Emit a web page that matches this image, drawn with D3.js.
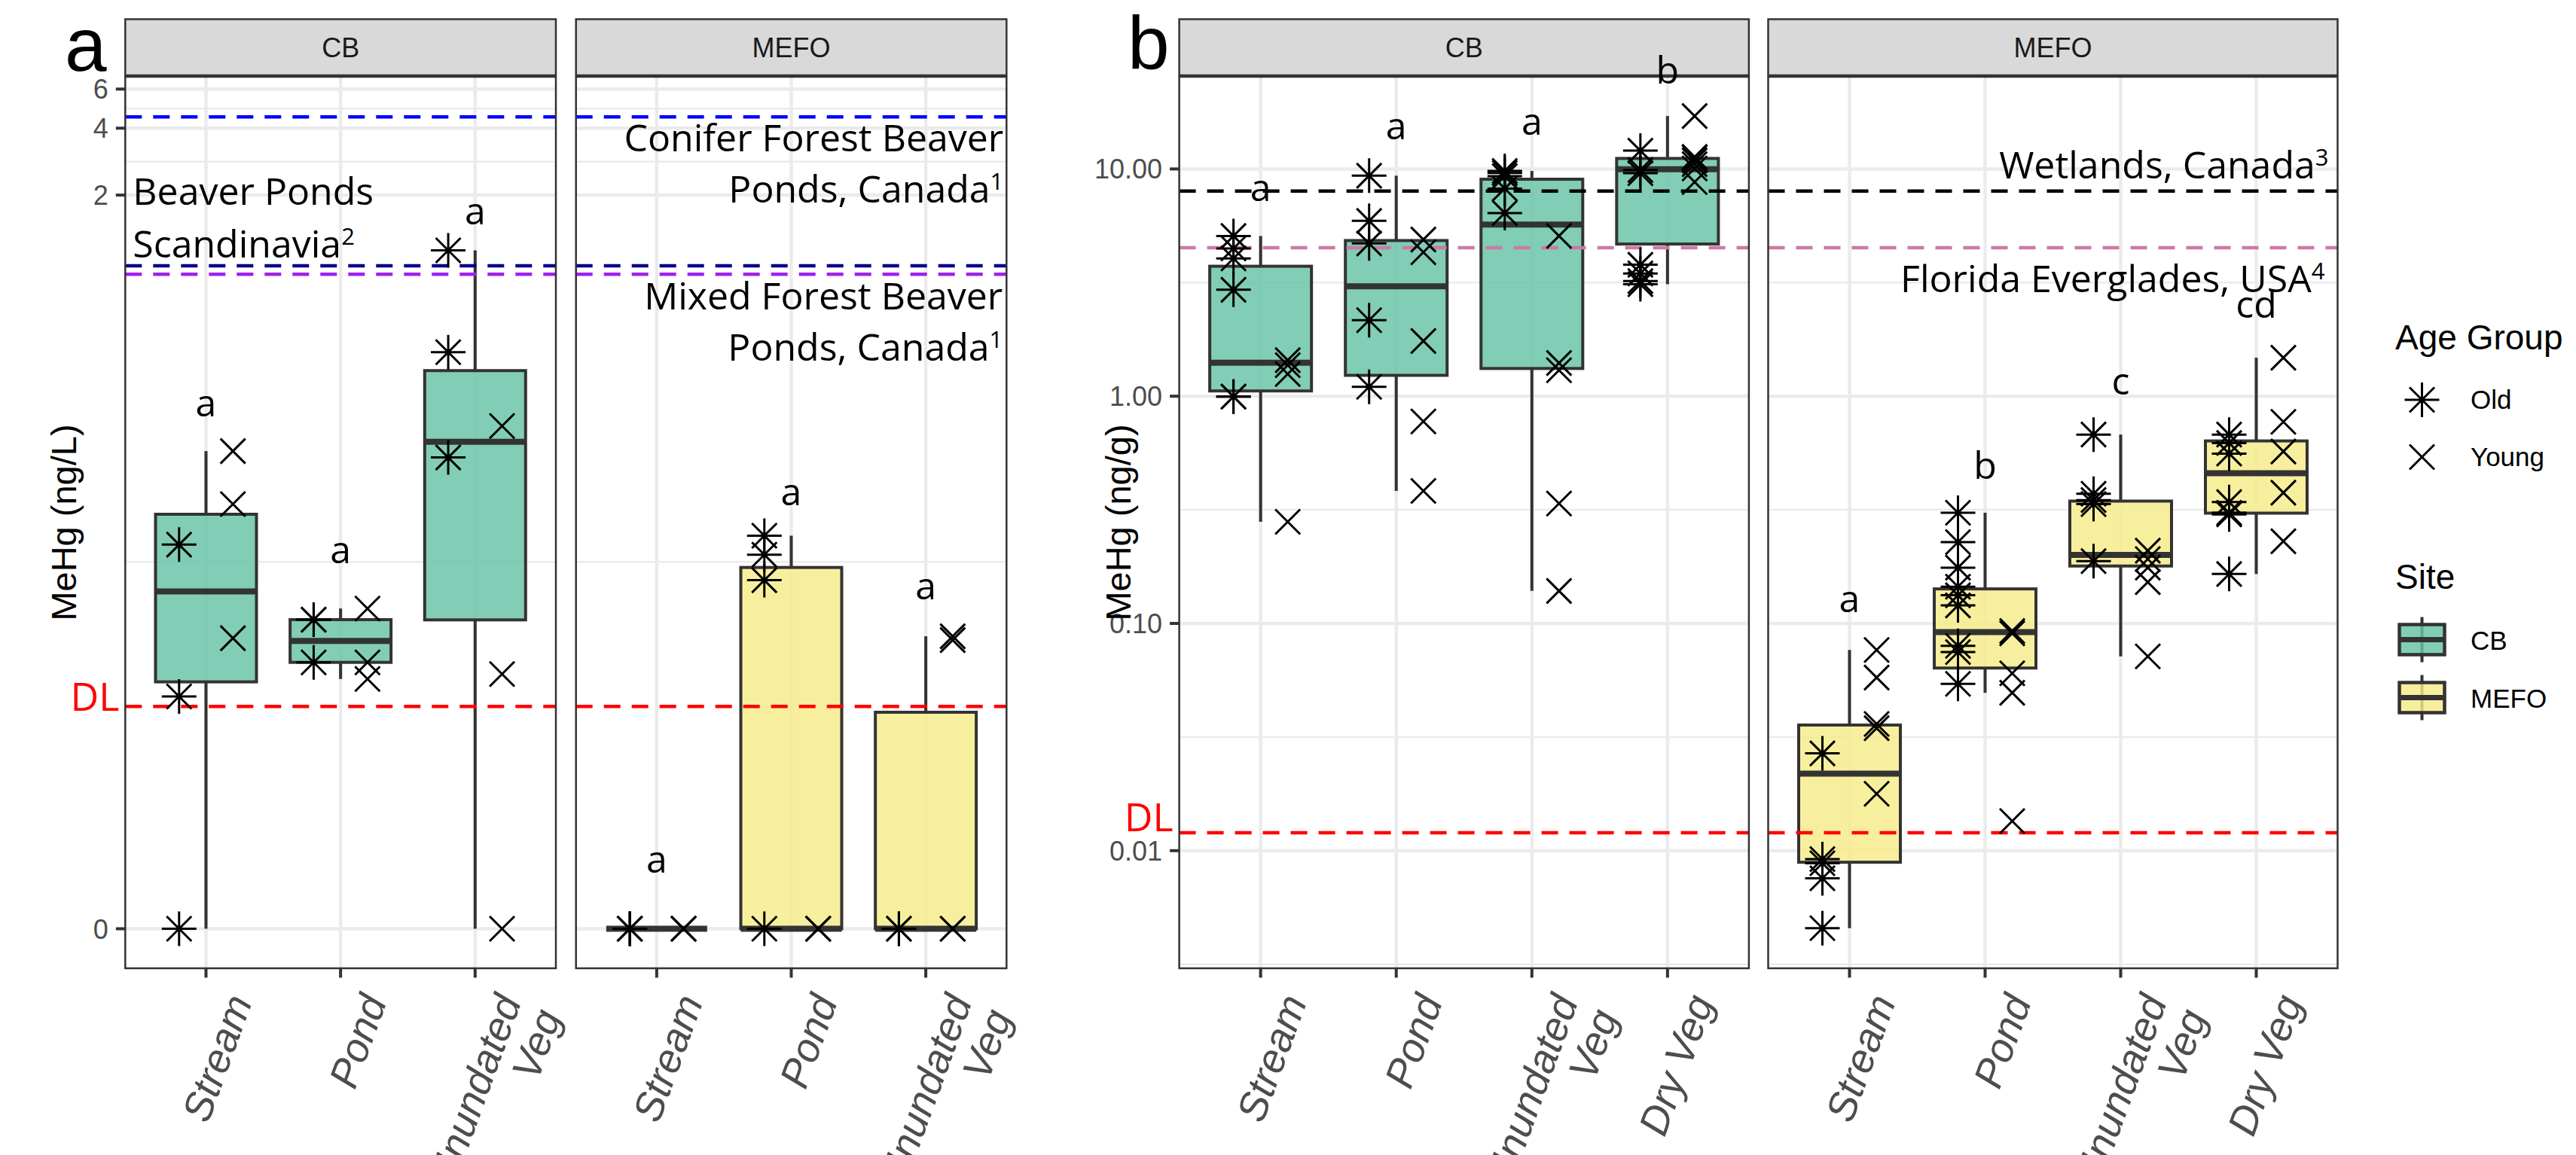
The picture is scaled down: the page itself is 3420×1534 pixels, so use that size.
<!DOCTYPE html>
<html><head><meta charset="utf-8">
<script src="https://cdn.jsdelivr.net/npm/d3@7/dist/d3.min.js"></script>
<style>html,body{margin:0;padding:0;background:#fff;}svg{display:block;}</style>
</head><body>
<script>
// ===================== DATA =====================
const habitatsA = ["Stream", "Pond", "Inundated Veg"];
const habitatsB = ["Stream", "Pond", "Inundated Veg", "Dry Veg"];
const sites = ["CB", "MEFO"];
const ageGroups = ["Old", "Young"];

// (a) MeHg in water (ng/L); one inner array per habitat: Stream, Pond, Inundated Veg
const waterCBOld     = [[0.0525, 0.0101, 0], [0.0236, 0.0236, 0.0148], [1.128, 0.392, 0.131]];
const waterCBYoung   = [[0.140, 0.0804, 0.0193], [0.0266, 0.0148, 0.0123], [0.182, 0.0130, 0]];
const waterMEFOOld   = [[0, 0, 0], [0.0577, 0.0472, 0.0360, 0], [0, 0]];
const waterMEFOYoung = [[0, 0, 0], [0, 0, 0], [0, 0, 0.0189, 0.0197]];

// (b) MeHg (ng/g); one inner array per habitat: Stream, Pond, Inundated Veg, Dry Veg
const sedCBOld = [
  [5.07, 4.47, 4.04, 2.94, 0.996, 0.996],
  [9.34, 5.91, 4.70, 2.16, 1.10],
  [9.8, 9.6, 9.3, 8.2, 6.4],
  [12.04, 9.9, 9.58, 3.79, 3.47, 3.21, 3.11]
];
const sedCBYoung = [
  [1.441, 1.369, 1.252, 0.280],
  [4.89, 4.30, 1.75, 0.774, 0.383],
  [5.07, 1.40, 1.30, 0.337, 0.139],
  [17.1, 11.3, 11.2, 10.9, 10.5, 10.05, 8.76]
];
const sedMEFOOld = [
  [0.0268, 0.00918, 0.0088, 0.00756, 0.00456],
  [0.307, 0.228, 0.176, 0.145, 0.133, 0.120, 0.0797, 0.0748, 0.0542],
  [0.678, 0.372, 0.349, 0.335, 0.188],
  [0.678, 0.622, 0.559, 0.342, 0.307, 0.302, 0.165]
];
const sedMEFOYoung = [
  [0.0764, 0.0578, 0.0361, 0.0346, 0.0178],
  [0.0926, 0.0905, 0.0603, 0.0495, 0.0135],
  [0.209, 0.192, 0.176, 0.152, 0.0716],
  [1.477, 0.771, 0.571, 0.376, 0.230]
];

// significance letters and the value at which each sits
const lettersWaterCB = ["a", "a", "a"];
const letterYWaterCB = [0.201, 0.0431, 1.475];
const lettersWaterMEFO = ["a", "a", "a"];
const letterYWaterMEFO = [0.00079, 0.0797, 0.0294];
const lettersSedCB = ["a", "a", "a", "b"];
const letterYSedCB = [7.25, 13.5, 14.1, 23.7];
const lettersSedMEFO = ["a", "b", "c", "cd"];
const letterYSedMEFO = [0.112, 0.433, 1.018, 2.22];

// axis ticks
const waterTicks = [0, 2, 4, 6];
const waterTickLabels = ["0", "2", "4", "6"];
const sedTicks = [0.01, 0.1, 1, 10];
const sedTickLabels = ["0.01", "0.10", "1.00", "10.00"];

// literature reference values and detection limits
const waterRefValues = [4.5, 0.96, 0.88];
const waterRefColors = ["#0000FF", "#00008B", "#A020F0"];
const sedRefValues = [8.0, 4.5];
const sedRefColors = ["#000000", "#CC79A7"];
const waterDL = 0.009;
const sedDL = 0.012;

// reference labels: [text, superscript] per line, plus the value of the first baseline
const waterNoteCB = { lines: [["Beaver Ponds", ""], ["Scandinavia", "2"]], at: 1.808 };
const waterNoteConifer = { lines: [["Conifer Forest Beaver", ""], ["Ponds, Canada", "1"]], at: 3.157 };
const waterNoteMixed = { lines: [["Mixed Forest Beaver", ""], ["Ponds, Canada", "1"]], at: 0.611 };
const sedNoteWetlands = { lines: [["Wetlands, Canada", "3"]], at: 9.05 };
const sedNoteFlorida = { lines: [["Florida Everglades, USA", "4"]], at: 2.875 };

// ===================== LAYOUT / STYLE =====================
const W = 3420, H = 1534;
const SANS = "'Liberation Sans', Arial, Helvetica, sans-serif";
const ANNO = "'Open Sans', 'Noto Sans', sans-serif";
const L = { top: 102, bottom: 1286, stripTop: 25.5, tickLen: 12.5 };
const siteFill = { CB: "#66C2A5", MEFO: "#F5EC88" };
const fillOpacity = 0.82;

const svg = d3.select("body").append("svg")
  .attr("width", W).attr("height", H).attr("viewBox", `0 0 ${W} ${H}`);
svg.append("rect").attr("width", W).attr("height", H).attr("fill", "#fff");

const yA = d3.scaleSymlog().constant(0.001).domain([0, 6]).range([1233.5, 118.3]);
const yB = d3.scaleLog().domain([0.01, 10]).range([1129.8, 224.4]);
const tfA = v => Math.log1p(v / 0.001), invA = t => 0.001 * Math.expm1(t);
const tfB = v => Math.log10(v), invB = t => Math.pow(10, t);

const astPath = "M-23,0H23M0,-23V23M-16.5,-16.5L16.5,16.5M-16.5,16.5L16.5,-16.5";
const crossPath = "M-16.5,-16.5L16.5,16.5M-16.5,16.5L16.5,-16.5";
const shapeOf = { Old: astPath, Young: crossPath };

function boxStats(vals, tf, inv) {
  const t = vals.map(tf).sort(d3.ascending);
  const q1 = d3.quantileSorted(t, 0.25), med = d3.quantileSorted(t, 0.5), q3 = d3.quantileSorted(t, 0.75);
  const iqr = q3 - q1;
  const lo = d3.min(t.filter(v => v >= q1 - 1.5 * iqr));
  const hi = d3.max(t.filter(v => v <= q3 + 1.5 * iqr));
  return { q1: inv(q1), med: inv(med), q3: inv(q3), lo: inv(lo), hi: inv(hi) };
}

function minorTicks(majors, tf, inv) {
  const t = majors.map(tf);
  const out = [];
  for (let i = 0; i < t.length - 1; i++) out.push(inv((t[i] + t[i + 1]) / 2));
  out.push(inv(t[0] - (t[1] - t[0]) / 2));
  out.push(inv(t[t.length - 1] + (t[t.length - 1] - t[t.length - 2]) / 2));
  return out;
}

function addNote(g, note, x, y, anchor, lineGap) {
  note.lines.forEach((ln, i) => {
    const t = g.append("text").attr("x", x).attr("y", y(note.at) + i * lineGap)
      .attr("text-anchor", anchor).attr("font-family", ANNO).attr("font-size", 50).attr("fill", "#000");
    t.append("tspan").text(ln[0]);
    if (ln[1]) t.append("tspan").attr("font-size", 31).attr("dy", -17).text(ln[1]);
  });
}

function drawPanel(p) {
  const g = svg.append("g");
  const x = d3.scalePoint().domain(p.habitats).range([p.x0, p.x1]).padding(0.6);
  const step = x.step(), bw = step * 0.75, dodge = step * 0.2;
  const y = p.y;
  const inPanel = v => { const yy = y(v); return yy > L.top && yy < L.bottom; };

  // strip (drawn first so letters can spill over it)
  g.append("rect").attr("x", p.x0).attr("y", L.stripTop).attr("width", p.x1 - p.x0).attr("height", L.top - L.stripTop - 2)
    .attr("fill", "#D9D9D9").attr("stroke", "#333333").attr("stroke-width", 2.5);
  g.append("text").attr("x", (p.x0 + p.x1) / 2).attr("y", (L.stripTop + L.top) / 2 + 12.5)
    .attr("text-anchor", "middle").attr("font-family", SANS).attr("font-size", 36).attr("fill", "#1A1A1A")
    .text(p.site);

  // grid
  const minors = minorTicks(p.ticks, p.tf, p.inv).filter(inPanel);
  g.selectAll(".ymin").data(minors).join("line")
    .attr("x1", p.x0).attr("x2", p.x1).attr("y1", d => y(d)).attr("y2", d => y(d))
    .attr("stroke", "#EBEBEB").attr("stroke-width", 2.5);
  g.selectAll(".ymaj").data(p.ticks).join("line")
    .attr("x1", p.x0).attr("x2", p.x1).attr("y1", d => y(d)).attr("y2", d => y(d))
    .attr("stroke", "#EBEBEB").attr("stroke-width", 4.5);
  g.selectAll(".xmaj").data(p.habitats).join("line")
    .attr("x1", d => x(d)).attr("x2", d => x(d)).attr("y1", L.top).attr("y2", L.bottom)
    .attr("stroke", "#EBEBEB").attr("stroke-width", 4.5);

  // boxes
  p.habitats.forEach((h, i) => {
    const vals = p.old[i].concat(p.young[i]);
    const s = boxStats(vals, p.tf, p.inv);
    const cx = x(h);
    g.append("line").attr("x1", cx).attr("x2", cx).attr("y1", y(s.q3)).attr("y2", y(s.hi))
      .attr("stroke", "#333333").attr("stroke-width", 4);
    g.append("line").attr("x1", cx).attr("x2", cx).attr("y1", y(s.q1)).attr("y2", y(s.lo))
      .attr("stroke", "#333333").attr("stroke-width", 4);
    g.append("rect").attr("x", cx - bw / 2).attr("width", bw)
      .attr("y", y(s.q3)).attr("height", Math.max(0, y(s.q1) - y(s.q3)))
      .attr("fill", siteFill[p.site]).attr("fill-opacity", fillOpacity)
      .attr("stroke", "#333333").attr("stroke-width", 4);
    g.append("line").attr("x1", cx - bw / 2).attr("x2", cx + bw / 2).attr("y1", y(s.med)).attr("y2", y(s.med))
      .attr("stroke", "#333333").attr("stroke-width", 8);
  });

  // reference lines and detection limit
  p.refs.forEach((v, i) => {
    g.append("line").attr("x1", p.x0).attr("x2", p.x1).attr("y1", y(v)).attr("y2", y(v))
      .attr("stroke", p.refColors[i]).attr("stroke-width", 4.5).attr("stroke-dasharray", "22,15");
  });
  g.append("line").attr("x1", p.x0).attr("x2", p.x1).attr("y1", y(p.dl)).attr("y2", y(p.dl))
    .attr("stroke", "#FF0000").attr("stroke-width", 4.5).attr("stroke-dasharray", "22,15");

  // points
  p.habitats.forEach((h, i) => {
    [["Old", p.old[i], -dodge], ["Young", p.young[i], dodge]].forEach(([age, arr, dx]) => {
      g.selectAll(null).data(arr).join("path")
        .attr("d", shapeOf[age])
        .attr("transform", d => `translate(${x(h) + dx},${y(d)})`)
        .attr("fill", "none").attr("stroke", "#000").attr("stroke-width", 3);
    });
  });

  // panel border
  g.append("rect").attr("x", p.x0).attr("y", L.top).attr("width", p.x1 - p.x0).attr("height", L.bottom - L.top)
    .attr("fill", "none").attr("stroke", "#333333").attr("stroke-width", 2.5);

  // letters (unclipped, may overlap the strip)
  g.selectAll(".let").data(p.habitats).join("text")
    .attr("x", d => x(d)).attr("y", (d, i) => y(p.letterY[i]))
    .attr("text-anchor", "middle").attr("font-family", ANNO).attr("font-size", 50)
    .text((d, i) => p.letters[i]);

  // notes
  p.notes.forEach(n => addNote(g, n.note, n.anchor === "start" ? p.x0 + n.dx : p.x1 - n.dx, y, n.anchor, n.gap));

  // x axis
  g.selectAll(".xt").data(p.habitats).join("line")
    .attr("x1", d => x(d)).attr("x2", d => x(d)).attr("y1", L.bottom).attr("y2", L.bottom + L.tickLen)
    .attr("stroke", "#333333").attr("stroke-width", 4);
  p.habitats.forEach(h => {
    const lines = h === "Inundated Veg" ? ["Inundated", "Veg"] : [h];
    const t = g.append("text")
      .attr("transform", `translate(${x(h) + 62},${L.bottom + 44}) rotate(-70)`)
      .attr("text-anchor", "end").attr("font-family", SANS).attr("font-style", "italic")
      .attr("font-size", 54).attr("fill", "#4D4D4D");
    lines.forEach((ln, k) => t.append("tspan").attr("x", 0).attr("dy", k === 0 ? 0 : "1.04em").text(ln));
  });

  // y axis (first panel of each figure only)
  if (p.yAxis) {
    p.ticks.forEach((v, k) => {
      g.append("line").attr("x1", p.x0 - L.tickLen).attr("x2", p.x0).attr("y1", y(v)).attr("y2", y(v))
        .attr("stroke", "#333333").attr("stroke-width", 4);
      g.append("text").attr("x", p.x0 - L.tickLen - 10).attr("y", y(v) + 13)
        .attr("text-anchor", "end").attr("font-family", SANS).attr("font-size", 36).attr("fill", "#4D4D4D")
        .text(p.tickLabels[k]);
    });
    g.append("text").attr("transform", `translate(${p.x0 - 65},${(L.top + L.bottom) / 2}) rotate(-90)`)
      .attr("text-anchor", "middle").attr("font-family", SANS).attr("font-size", 47).attr("fill", "#000")
      .text(p.yTitle);
    g.append("text").attr("x", p.x0 - 8).attr("y", y(p.dl) + p.dlDy)
      .attr("text-anchor", "end").attr("font-family", ANNO).attr("font-size", 52).attr("fill", "#FF0000")
      .text("DL");
  }
}

const common = {
  a: { habitats: habitatsA, y: yA, tf: tfA, inv: invA, ticks: waterTicks, tickLabels: waterTickLabels,
       refs: waterRefValues, refColors: waterRefColors, dl: waterDL, yTitle: "MeHg (ng/L)", dlDy: 6 },
  b: { habitats: habitatsB, y: yB, tf: tfB, inv: invB, ticks: sedTicks, tickLabels: sedTickLabels,
       refs: sedRefValues, refColors: sedRefColors, dl: sedDL, yTitle: "MeHg (ng/g)", dlDy: -2 }
};

drawPanel(Object.assign({}, common.a, { site: "CB", x0: 166.3, x1: 738, yAxis: true,
  old: waterCBOld, young: waterCBYoung, letters: lettersWaterCB, letterY: letterYWaterCB,
  notes: [{ note: waterNoteCB, anchor: "start", dx: 10, gap: 69.5 }] }));
drawPanel(Object.assign({}, common.a, { site: "MEFO", x0: 764.7, x1: 1336.3, yAxis: false,
  old: waterMEFOOld, young: waterMEFOYoung, letters: lettersWaterMEFO, letterY: letterYWaterMEFO,
  notes: [{ note: waterNoteConifer, anchor: "end", dx: 4, gap: 68.5 },
          { note: waterNoteMixed, anchor: "end", dx: 5, gap: 68.5 }] }));
drawPanel(Object.assign({}, common.b, { site: "CB", x0: 1565.6, x1: 2321.9, yAxis: true,
  old: sedCBOld, young: sedCBYoung, letters: lettersSedCB, letterY: letterYSedCB, notes: [] }));
drawPanel(Object.assign({}, common.b, { site: "MEFO", x0: 2347.5, x1: 3103.5, yAxis: false,
  old: sedMEFOOld, young: sedMEFOYoung, letters: lettersSedMEFO, letterY: letterYSedMEFO,
  notes: [{ note: sedNoteWetlands, anchor: "end", dx: 12, gap: 68 },
          { note: sedNoteFlorida, anchor: "end", dx: 17, gap: 68 }] }));

// panel tags
svg.append("text").attr("x", 86).attr("y", 94).attr("font-family", SANS).attr("font-size", 100).text("a");
svg.append("text").attr("x", 1497).attr("y", 92).attr("font-family", SANS).attr("font-size", 100).text("b");

// legend
const lg = svg.append("g").attr("font-family", SANS);
lg.append("text").attr("x", 3180).attr("y", 464).attr("font-size", 46).text("Age Group");
ageGroups.forEach((a, i) => {
  lg.append("path").attr("d", shapeOf[a]).attr("transform", `translate(3215.5,${531 + i * 76})`)
    .attr("fill", "none").attr("stroke", "#000").attr("stroke-width", 3);
  lg.append("text").attr("x", 3280).attr("y", 543 + i * 76).attr("font-size", 35).text(a);
});
lg.append("text").attr("x", 3180).attr("y", 782).attr("font-size", 46).text("Site");
sites.forEach((s, i) => {
  const cy = 849.5 + i * 77;
  lg.append("line").attr("x1", 3215.5).attr("x2", 3215.5).attr("y1", cy - 30).attr("y2", cy + 30)
    .attr("stroke", "#333333").attr("stroke-width", 4);
  lg.append("rect").attr("x", 3185.5).attr("y", cy - 20).attr("width", 60).attr("height", 40)
    .attr("fill", siteFill[s]).attr("fill-opacity", fillOpacity).attr("stroke", "#333333").attr("stroke-width", 4);
  lg.append("rect").attr("x", 3185.5).attr("y", cy - 20).attr("width", 60).attr("height", 40)
    .attr("fill", "none").attr("stroke", "#333333").attr("stroke-width", 4);
  lg.append("line").attr("x1", 3185.5).attr("x2", 3245.5).attr("y1", cy).attr("y2", cy)
    .attr("stroke", "#333333").attr("stroke-width", 7);
  lg.append("text").attr("x", 3280).attr("y", cy + 13.5).attr("font-size", 35).text(s);
});
</script>
</body></html>
